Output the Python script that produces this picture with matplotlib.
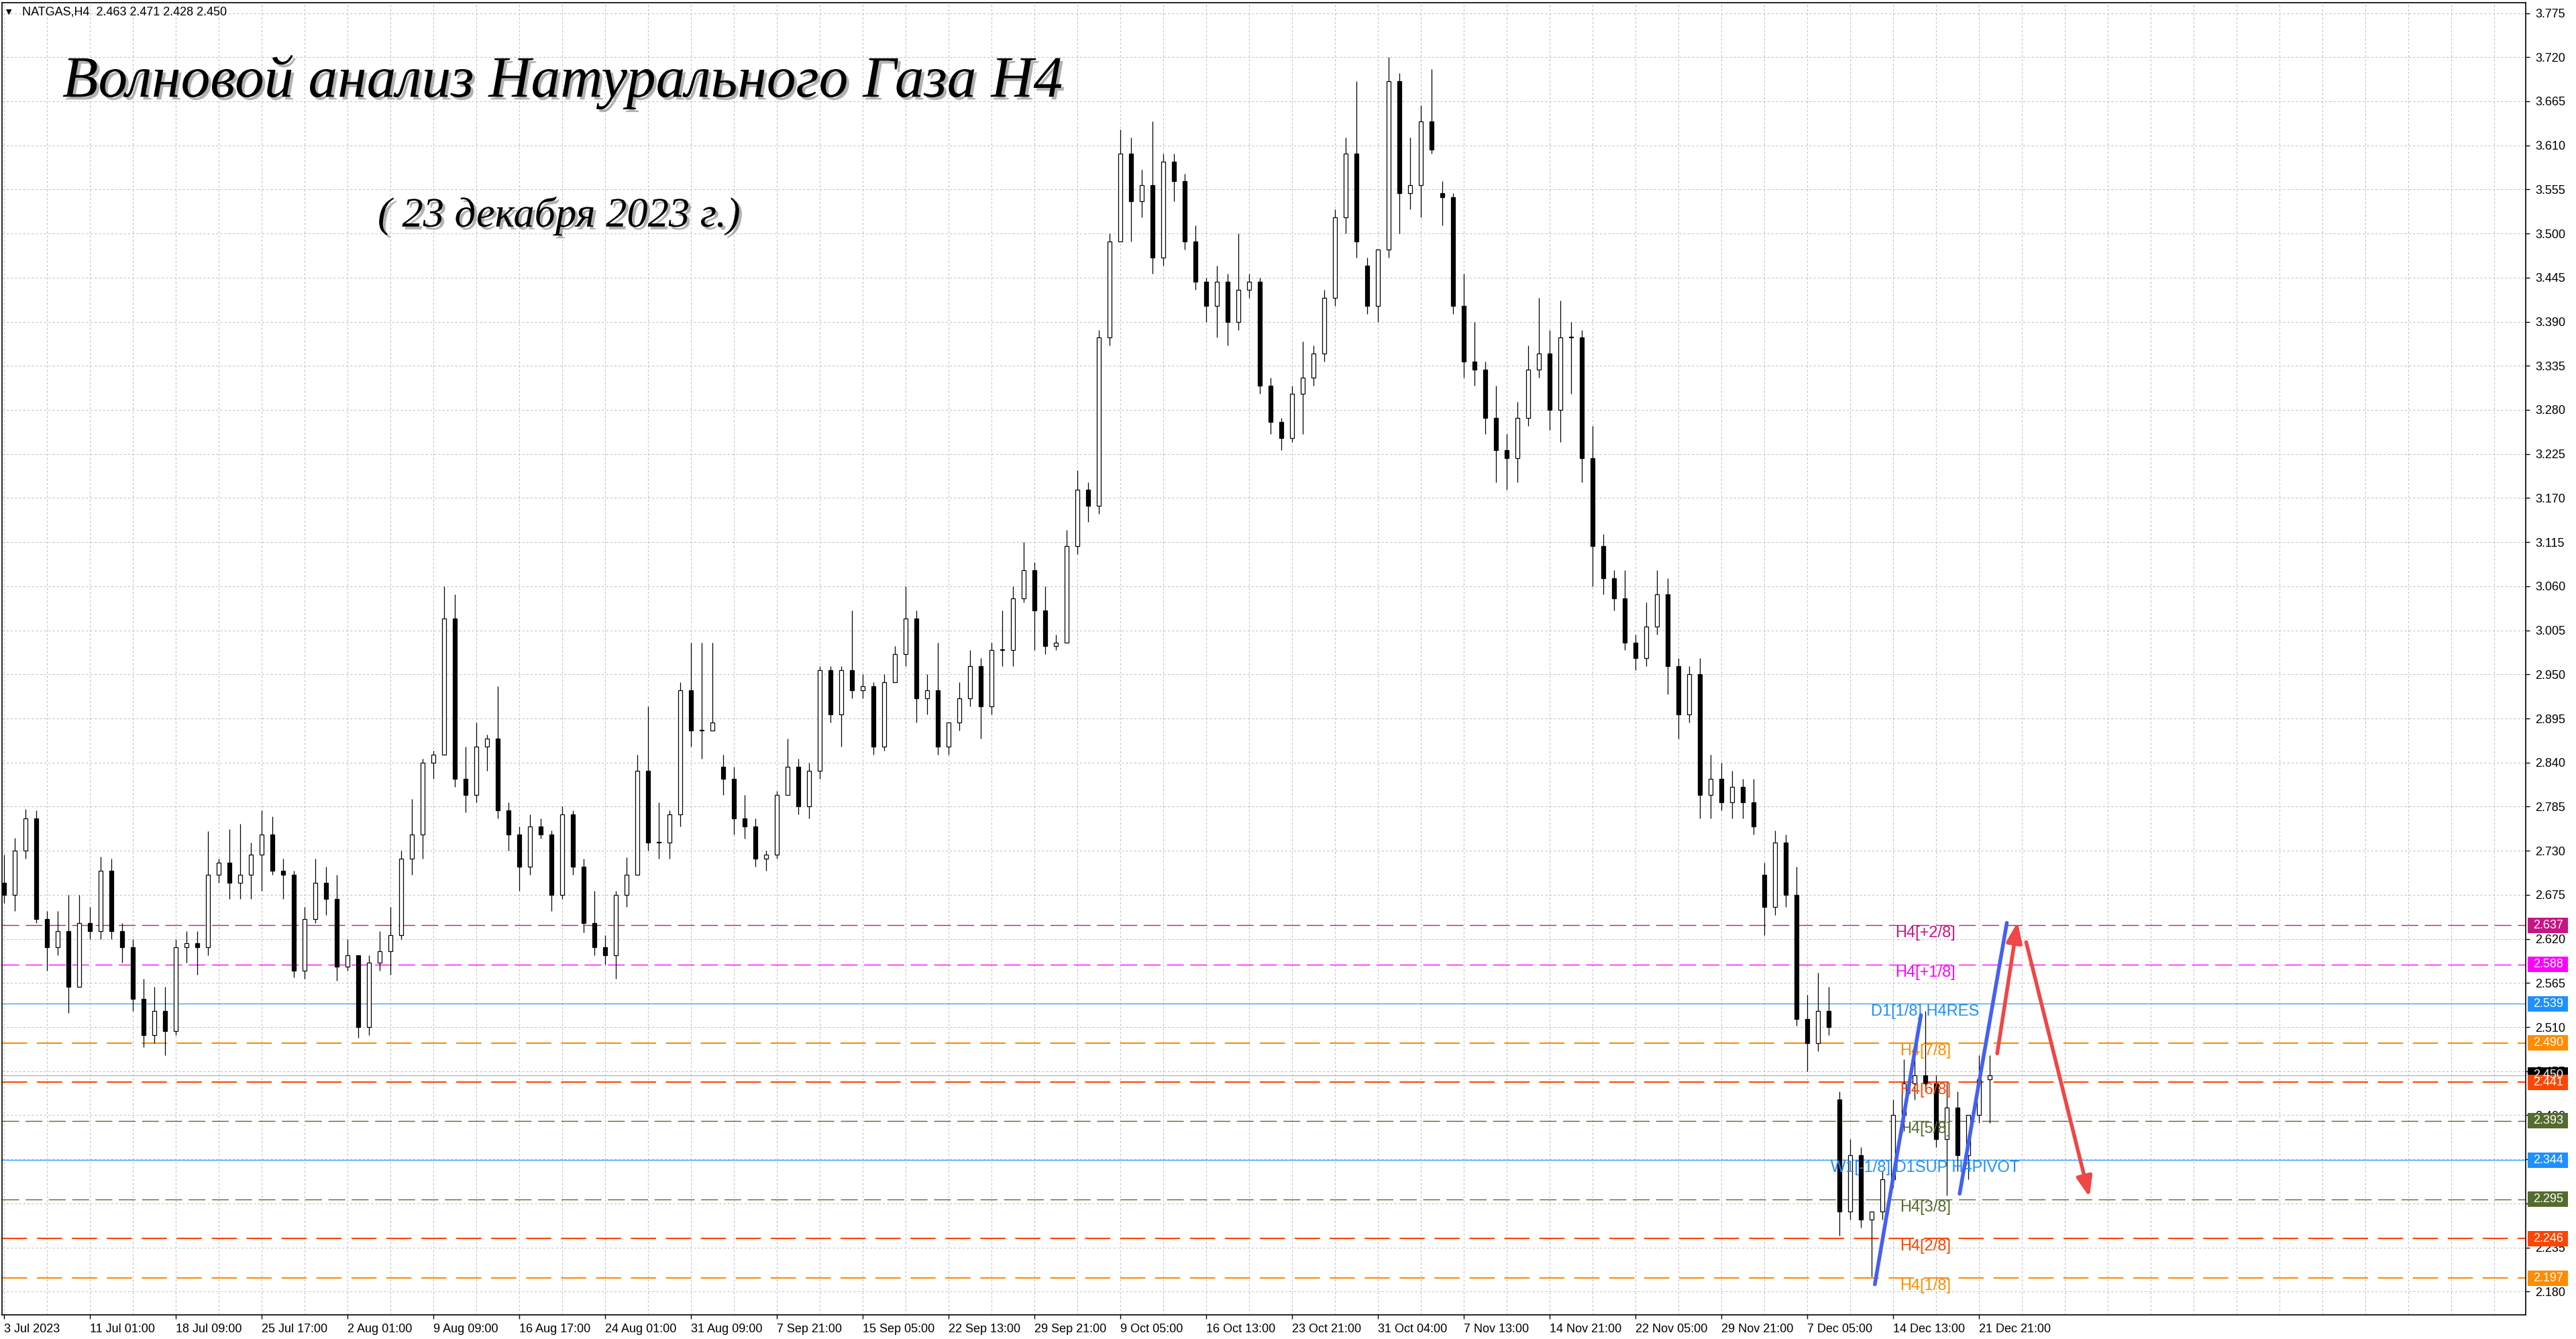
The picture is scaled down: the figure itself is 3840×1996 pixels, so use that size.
import matplotlib
matplotlib.use("Agg")
import matplotlib.pyplot as plt
import matplotlib.patheffects as pe
import matplotlib.transforms as mtransforms
from matplotlib.patches import Rectangle

# NATGAS H4, one candle = 4 H4 bars
opens = [2.690, 2.675, 2.730, 2.770, 2.645, 2.610, 2.630, 2.560, 2.640, 2.630,
         2.705, 2.630, 2.610, 2.545, 2.500, 2.530, 2.505, 2.610, 2.615, 2.610,
         2.700, 2.715, 2.690, 2.700, 2.725, 2.750, 2.705, 2.700, 2.580, 2.645,
         2.690, 2.670, 2.585, 2.600, 2.510, 2.590, 2.605, 2.625, 2.720, 2.750,
         2.840, 2.850, 3.020, 2.820, 2.800, 2.860, 2.870, 2.780, 2.750, 2.710,
         2.760, 2.750, 2.675, 2.775, 2.710, 2.640, 2.610, 2.600, 2.675, 2.700,
         2.830, 2.740, 2.740, 2.775, 2.930, 2.880, 2.880, 2.835, 2.820, 2.770,
         2.760, 2.720, 2.725, 2.800, 2.835, 2.785, 2.830, 2.955, 2.900, 2.955,
         2.930, 2.935, 2.860, 2.940, 2.975, 3.020, 2.920, 2.930, 2.860, 2.890,
         2.920, 2.960, 2.910, 2.980, 2.980, 3.045, 3.080, 3.030, 2.985, 2.990,
         3.110, 3.180, 3.160, 3.370, 3.490, 3.600, 3.540, 3.560, 3.470, 3.590,
         3.565, 3.490, 3.440, 3.410, 3.440, 3.390, 3.430, 3.440, 3.310, 3.265,
         3.245, 3.300, 3.320, 3.350, 3.420, 3.520, 3.600, 3.460, 3.410, 3.480,
         3.690, 3.550, 3.560, 3.640, 3.550, 3.545, 3.410, 3.340, 3.330, 3.270,
         3.230, 3.220, 3.270, 3.330, 3.350, 3.280, 3.370, 3.370, 3.220, 3.110,
         3.070, 3.045, 2.990, 2.970, 3.010, 3.050, 2.960, 2.900, 2.950, 2.800,
         2.820, 2.790, 2.810, 2.790, 2.700, 2.660, 2.740, 2.675, 2.520, 2.490,
         2.530, 2.420, 2.280, 2.350, 2.270, 2.280, 2.320, 2.400, 2.440, 2.450,
         2.440, 2.370, 2.410, 2.350, 2.400, 2.445]
highs = [2.725, 2.746, 2.782, 2.780, 2.655, 2.655, 2.675, 2.675, 2.660, 2.723,
         2.720, 2.640, 2.620, 2.570, 2.560, 2.560, 2.620, 2.630, 2.630, 2.754,
         2.720, 2.757, 2.764, 2.740, 2.780, 2.773, 2.720, 2.705, 2.660, 2.720,
         2.710, 2.700, 2.620, 2.600, 2.600, 2.630, 2.660, 2.730, 2.795, 2.845,
         2.855, 3.060, 3.050, 2.860, 2.890, 2.875, 2.935, 2.790, 2.760, 2.775,
         2.770, 2.755, 2.785, 2.780, 2.720, 2.680, 2.625, 2.680, 2.722, 2.850,
         2.910, 2.790, 2.780, 2.940, 2.990, 2.990, 2.990, 2.850, 2.835, 2.800,
         2.770, 2.730, 2.805, 2.870, 2.845, 2.840, 2.960, 2.960, 2.960, 3.030,
         2.950, 2.940, 2.950, 2.985, 3.060, 3.030, 2.950, 2.990, 2.890, 2.940,
         2.980, 2.970, 2.990, 3.030, 3.060, 3.115, 3.090, 3.060, 3.000, 3.130,
         3.205, 3.190, 3.380, 3.500, 3.630, 3.620, 3.580, 3.640, 3.600, 3.600,
         3.575, 3.510, 3.445, 3.460, 3.450, 3.500, 3.450, 3.445, 3.320, 3.270,
         3.310, 3.365, 3.360, 3.430, 3.530, 3.620, 3.690, 3.470, 3.480, 3.720,
         3.700, 3.620, 3.660, 3.705, 3.565, 3.550, 3.450, 3.390, 3.340, 3.310,
         3.250, 3.290, 3.360, 3.420, 3.380, 3.416, 3.390, 3.380, 3.260, 3.125,
         3.080, 3.080, 3.000, 3.040, 3.080, 3.070, 2.970, 2.960, 2.970, 2.850,
         2.840, 2.830, 2.820, 2.820, 2.715, 2.755, 2.750, 2.710, 2.550, 2.578,
         2.560, 2.430, 2.370, 2.360, 2.280, 2.330, 2.420, 2.470, 2.475, 2.530,
         2.450, 2.440, 2.430, 2.400, 2.475, 2.475]
lows = [2.665, 2.655, 2.720, 2.640, 2.580, 2.600, 2.528, 2.560, 2.620, 2.620,
        2.620, 2.590, 2.530, 2.485, 2.490, 2.475, 2.500, 2.590, 2.575, 2.600,
        2.690, 2.670, 2.670, 2.670, 2.680, 2.700, 2.670, 2.572, 2.570, 2.640,
        2.650, 2.568, 2.580, 2.497, 2.500, 2.580, 2.575, 2.620, 2.700, 2.720,
        2.820, 2.850, 2.810, 2.778, 2.790, 2.830, 2.770, 2.730, 2.680, 2.700,
        2.745, 2.655, 2.670, 2.700, 2.628, 2.600, 2.588, 2.570, 2.660, 2.700,
        2.730, 2.720, 2.720, 2.760, 2.860, 2.845, 2.880, 2.800, 2.750, 2.745,
        2.710, 2.705, 2.720, 2.800, 2.775, 2.770, 2.820, 2.890, 2.860, 2.920,
        2.920, 2.850, 2.855, 2.940, 2.960, 2.890, 2.900, 2.850, 2.850, 2.880,
        2.910, 2.870, 2.900, 2.960, 2.960, 3.040, 2.980, 2.975, 2.980, 2.990,
        3.100, 3.140, 3.150, 3.360, 3.490, 3.490, 3.520, 3.450, 3.460, 3.540,
        3.480, 3.430, 3.390, 3.370, 3.360, 3.380, 3.420, 3.300, 3.250, 3.230,
        3.240, 3.250, 3.310, 3.340, 3.410, 3.500, 3.470, 3.400, 3.390, 3.470,
        3.500, 3.530, 3.520, 3.600, 3.510, 3.400, 3.320, 3.310, 3.250, 3.190,
        3.180, 3.190, 3.260, 3.320, 3.255, 3.240, 3.300, 3.190, 3.060, 3.050,
        3.030, 2.980, 2.955, 2.960, 3.000, 2.925, 2.870, 2.890, 2.770, 2.770,
        2.780, 2.770, 2.770, 2.750, 2.625, 2.650, 2.660, 2.512, 2.455, 2.480,
        2.500, 2.250, 2.270, 2.260, 2.199, 2.270, 2.310, 2.380, 2.420, 2.430,
        2.360, 2.300, 2.330, 2.320, 2.390, 2.390]
closes = [2.675, 2.730, 2.770, 2.645, 2.610, 2.630, 2.560, 2.640, 2.630, 2.705,
          2.630, 2.610, 2.545, 2.500, 2.530, 2.505, 2.610, 2.615, 2.610, 2.700,
          2.715, 2.690, 2.700, 2.725, 2.750, 2.705, 2.700, 2.580, 2.645, 2.690,
          2.670, 2.585, 2.600, 2.510, 2.590, 2.605, 2.625, 2.720, 2.750, 2.840,
          2.850, 3.020, 2.820, 2.800, 2.860, 2.870, 2.780, 2.750, 2.710, 2.760,
          2.750, 2.675, 2.775, 2.710, 2.640, 2.610, 2.600, 2.675, 2.700, 2.830,
          2.740, 2.740, 2.775, 2.930, 2.880, 2.880, 2.890, 2.820, 2.770, 2.760,
          2.720, 2.725, 2.800, 2.835, 2.785, 2.830, 2.955, 2.900, 2.955, 2.930,
          2.935, 2.860, 2.940, 2.975, 3.020, 2.920, 2.930, 2.860, 2.890, 2.920,
          2.960, 2.910, 2.980, 2.980, 3.045, 3.080, 3.030, 2.985, 2.990, 3.110,
          3.180, 3.160, 3.370, 3.490, 3.600, 3.540, 3.560, 3.470, 3.590, 3.565,
          3.490, 3.440, 3.410, 3.440, 3.390, 3.430, 3.440, 3.310, 3.265, 3.245,
          3.300, 3.320, 3.350, 3.420, 3.520, 3.600, 3.490, 3.410, 3.480, 3.690,
          3.550, 3.560, 3.640, 3.605, 3.545, 3.410, 3.340, 3.330, 3.270, 3.230,
          3.220, 3.270, 3.330, 3.350, 3.280, 3.370, 3.370, 3.220, 3.110, 3.070,
          3.045, 2.990, 2.970, 3.010, 3.050, 2.960, 2.900, 2.950, 2.800, 2.820,
          2.790, 2.810, 2.790, 2.760, 2.660, 2.740, 2.675, 2.520, 2.490, 2.530,
          2.510, 2.280, 2.350, 2.270, 2.280, 2.320, 2.400, 2.440, 2.450, 2.440,
          2.370, 2.410, 2.350, 2.400, 2.445, 2.450]

date_labels = ["3 Jul 2023", "11 Jul 01:00", "18 Jul 09:00", "25 Jul 17:00",
               "2 Aug 01:00", "9 Aug 09:00", "16 Aug 17:00", "24 Aug 01:00",
               "31 Aug 09:00", "7 Sep 21:00", "15 Sep 05:00", "22 Sep 13:00",
               "29 Sep 21:00", "9 Oct 05:00", "16 Oct 13:00", "23 Oct 21:00",
               "31 Oct 04:00", "7 Nov 13:00", "14 Nov 21:00", "22 Nov 05:00",
               "29 Nov 21:00", "7 Dec 05:00", "14 Dec 13:00", "21 Dec 21:00"]
date_ticks = list(range(0, 185, 8))

price_ticks = [3.775, 3.720, 3.665, 3.610, 3.555, 3.500, 3.445, 3.390, 3.335,
               3.280, 3.225, 3.170, 3.115, 3.060, 3.005, 2.950, 2.895, 2.840,
               2.785, 2.730, 2.675, 2.620, 2.565, 2.510, 2.455, 2.400, 2.345,
               2.290, 2.235, 2.180]
# labels fully hidden behind the level boxes in the terminal
hidden_ticks = [2.345, 2.290]

# Murrey levels
level_names = ["H4[+2/8]", "H4[+1/8]", "D1[1/8] H4RES", "H4[7/8]", "H4[6/8]",
               "H4[5/8]", "W1[-1/8] D1SUP H4PIVOT", "H4[3/8]", "H4[2/8]", "H4[1/8]"]
level_prices = [2.637, 2.588, 2.539, 2.490, 2.441, 2.393, 2.344, 2.295, 2.246, 2.197]
level_colors = ["#c71585", "#ff00ff", "#1e90ff", "#ff8c00", "#ff4500",
                "#556b2f", "#1e90ff", "#556b2f", "#ff4500", "#ff8c00"]
level_dashed = [True, True, False, True, True, True, False, True, True, True]
level_widths = [1.0, 1.0, 0.8, 1.5, 1.5, 1.0, 0.8, 1.0, 1.5, 1.5]
bid_price = 2.450

# hand drawn wave lines and forecast arrows (bar index, price)
wave1_x, wave1_y = [174.3, 178.6], [2.189, 2.525]
wave2_x, wave2_y = [182.2, 186.6], [2.302, 2.640]
arrow_up_x, arrow_up_y = [185.7, 187.6], [2.477, 2.641]
arrow_dn_x, arrow_dn_y = [188.4, 194.3], [2.616, 2.298]

plt.rcParams['font.family'] = ['Liberation Sans', 'DejaVu Sans']

W, H = 3840, 1996
fig = plt.figure(figsize=(W / 100, H / 100), dpi=100, facecolor='white')
ax = fig.add_axes([3 / W, 1 - 1960 / H, (3765 - 3) / W, (1960 - 4) / H])
ax.set_xlim(-0.19, 234.94)
ax.set_ylim(2.151, 3.788)

# grille
ax.set_xticks(date_ticks)
ax.set_xticklabels(date_labels)
ax.set_xticks(range(0, 235, 4), minor=True)
ax.grid(True, which='both', axis='x', color='#c0c0c0', linestyle=(0, (3, 3)), lw=0.75, zorder=0)
ax.yaxis.tick_right()
ax.set_yticks(price_ticks)
ax.set_yticklabels(["" if p in hidden_ticks else f"{p:.3f}" for p in price_ticks])
ax.grid(True, which='major', axis='y', color='#c0c0c0', linestyle=(0, (3, 3)), lw=0.75, zorder=0)
ax.set_axisbelow(True)
ax.tick_params(axis='x', which='major', direction='out', length=4, width=1, pad=5, labelsize=13)
ax.tick_params(axis='x', which='minor', length=0)
ax.tick_params(axis='y', direction='out', length=4, width=1, pad=6, labelsize=13)
for lbl in ax.get_xticklabels():
    lbl.set_ha('left')
for sp in ax.spines.values():
    sp.set_color('black')
    sp.set_linewidth(1.2)

# niveaux
ax.axhline(bid_price, color='#b4b4b4', lw=0.9, zorder=1)
for name, p, c, d, w in zip(level_names, level_prices, level_colors, level_dashed, level_widths):
    ls = (0, (18, 7)) if d else '-'
    ax.axhline(p, color=c, lw=w, linestyle=ls, zorder=1)

# bougies
idx = list(range(len(closes)))
ax.vlines(idx, lows, highs, color='black', lw=0.9, zorder=3)
for i, o, c in zip(idx, opens, closes):
    face = 'white' if c >= o else 'black'
    bottom = min(o, c)
    height = max(abs(c - o), 0.0008)
    ax.bar(i, height, bottom=bottom, width=0.4, color=face, edgecolor='black', lw=0.9, zorder=4)

# noms des niveaux
for name, p, c in zip(level_names, level_prices, level_colors):
    ax.annotate(name, xy=(179.0, p), xytext=(0, -12), textcoords='offset pixels',
                ha='center', va='center', color=c, fontsize=17,
                family=['Liberation Sans Narrow', 'Liberation Sans', 'DejaVu Sans'], zorder=6)

# lignes de vagues et fleches
ax.plot(wave1_x, wave1_y, color='#4460f2', lw=4, solid_capstyle='round', zorder=7)
ax.plot(wave2_x, wave2_y, color='#4460f2', lw=4, solid_capstyle='round', zorder=7)
for xs, ys in [(arrow_up_x, arrow_up_y), (arrow_dn_x, arrow_dn_y)]:
    ax.annotate('', xy=(xs[1], ys[1]), xytext=(xs[0], ys[0]),
                arrowprops=dict(arrowstyle='-|>,head_length=1.8,head_width=0.7',
                                mutation_scale=10, color='#f04646', lw=4,
                                shrinkA=0, shrinkB=0, capstyle='round'),
                zorder=8)

# etiquettes de prix a droite
trans = mtransforms.blended_transform_factory(ax.transAxes, ax.transData)
axw = 3762.0
box_h = 23 / 1194.6
box_prices = [bid_price] + level_prices
box_colors = ['black'] + level_colors
for p, c in zip(box_prices, box_colors):
    ax.add_patch(Rectangle((1 + 3 / axw, p - box_h / 2), 60 / axw, box_h,
                           transform=trans, facecolor=c, edgecolor='none',
                           clip_on=False, zorder=10))
    ax.text(1 + 11 / axw, p, f"{p:.3f}", transform=trans, color='white',
            fontsize=13, ha='left', va='center', clip_on=False, zorder=11)

# en-tete et titres
fig.text(9 / W, 1 - 18 / H, "\u25bc", fontsize=8, family=['DejaVu Sans'],
         ha='left', va='center', color='black')
fig.text(33 / W, 1 - 18 / H, "NATGAS,H4  2.463 2.471 2.428 2.450", fontsize=13,
         ha='left', va='center', color='black')

shadow = [pe.SimplePatchShadow(offset=(3, -3), shadow_rgbFace='#808080', alpha=0.6), pe.Normal()]
fig.text(93 / W, 1 - 122 / H, "Волновой анализ Натурального Газа H4", fontsize=63,
         family=['Liberation Serif', 'DejaVu Serif'], style='italic',
         ha='left', va='center', color='black', path_effects=shadow)
fig.text(563 / W, 1 - 322 / H, "( 23 декабря 2023 г.)", fontsize=45,
         family=['Liberation Serif', 'DejaVu Serif'], style='italic',
         ha='left', va='center', color='black', path_effects=shadow)

fig.savefig('out.png', dpi=100, facecolor='white')
